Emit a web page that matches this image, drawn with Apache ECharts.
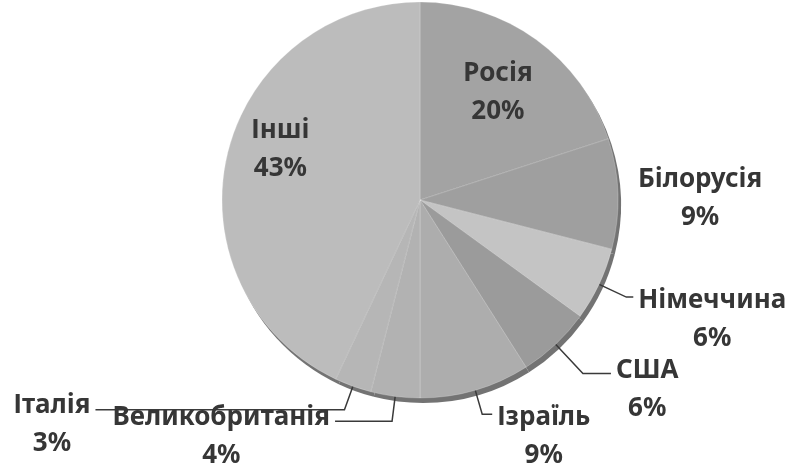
<!DOCTYPE html>
<html><head><meta charset="utf-8">
<script src="https://cdn.jsdelivr.net/npm/echarts@6/dist/echarts.min.js"></script>
<style>html,body{margin:0;padding:0;background:#fff}#c{width:788px;height:471px}</style>
</head><body><div id="c"></div>
<script>
const categories = ['Росія', 'Білорусія', 'Німеччина', 'США', 'Ізраїль', 'Великобританія', 'Італія', 'Інші'];
const shares = [20, 9, 6, 6, 9, 4, 3, 43];

const sliceColors = ['#a3a3a3', '#9f9f9f', '#c4c4c4', '#9b9b9b', '#adadad', '#b2b2b2', '#b6b6b6', '#bcbcbc'];
const CX = 420, CY = 200, R = 198;

// label styling per slice (layout only)
const labelCfg = [
  { inside: true, dx: 18, dy: -25 },
  { len: 10, len2: 5, pad: 11, hideLine: true },
  { len: 30, len2: 7, pad: 46 },
  { len: 40, len2: 28, pad: 33 },
  { len: 25, len2: 10, pad: 44 },
  { len: 25, len2: 57, pad: 30 },
  { len: 25, len2: 249, pad: 30 },
  { inside: true, dx: -40, dy: -28 }
];

const textStyle = { align: 'center', fontFamily: 'Noto Sans', fontWeight: 'bold', fontSize: 26, lineHeight: 38, color: '#363636' };

const data = categories.map((name, i) => {
  const c = labelCfg[i];
  const item = { name: name, value: shares[i], itemStyle: { color: sliceColors[i] } };
  if (c.inside) {
    item.label = { position: 'inside' };
    item.labelLine = { show: false };
  } else {
    item.label = { position: 'outside', padding: [c.pad, 0, 0, 0] };
    item.labelLine = { show: !c.hideLine, length: c.len, length2: c.len2 };
  }
  return item;
});

const chart = echarts.init(document.getElementById('c'), null, { renderer: 'canvas' });
chart.setOption({
  animation: false,
  backgroundColor: '#ffffff',
  series: [
    {
      type: 'pie', silent: true, radius: R, center: [CX + 3, CY + 5], startAngle: 90,
      data: shares.map(v => ({ value: v })),
      itemStyle: { color: '#737373' },
      label: { show: false }, labelLine: { show: false }, z: 1
    },
    {
      type: 'pie', radius: R, center: [CX, CY], startAngle: 90, clockwise: true,
      avoidLabelOverlap: false, z: 2,
      data: data,
      itemStyle: { borderColor: 'rgba(255,255,255,0.35)', borderWidth: 0.6 },
      label: {
        show: true, alignTo: 'none', distanceToLabelLine: 5,
        formatter: p => '{t|' + p.name + '}\n{t|' + p.value + '%}',
        rich: { t: textStyle }
      },
      labelLine: { lineStyle: { color: '#3a3a3a', width: 1.5 }, smooth: false },
      labelLayout: function (p) {
        const c = labelCfg[p.dataIndex];
        if (c && c.inside) return { dx: c.dx, dy: c.dy };
        return {};
      }
    }
  ]
});
</script></body></html>
